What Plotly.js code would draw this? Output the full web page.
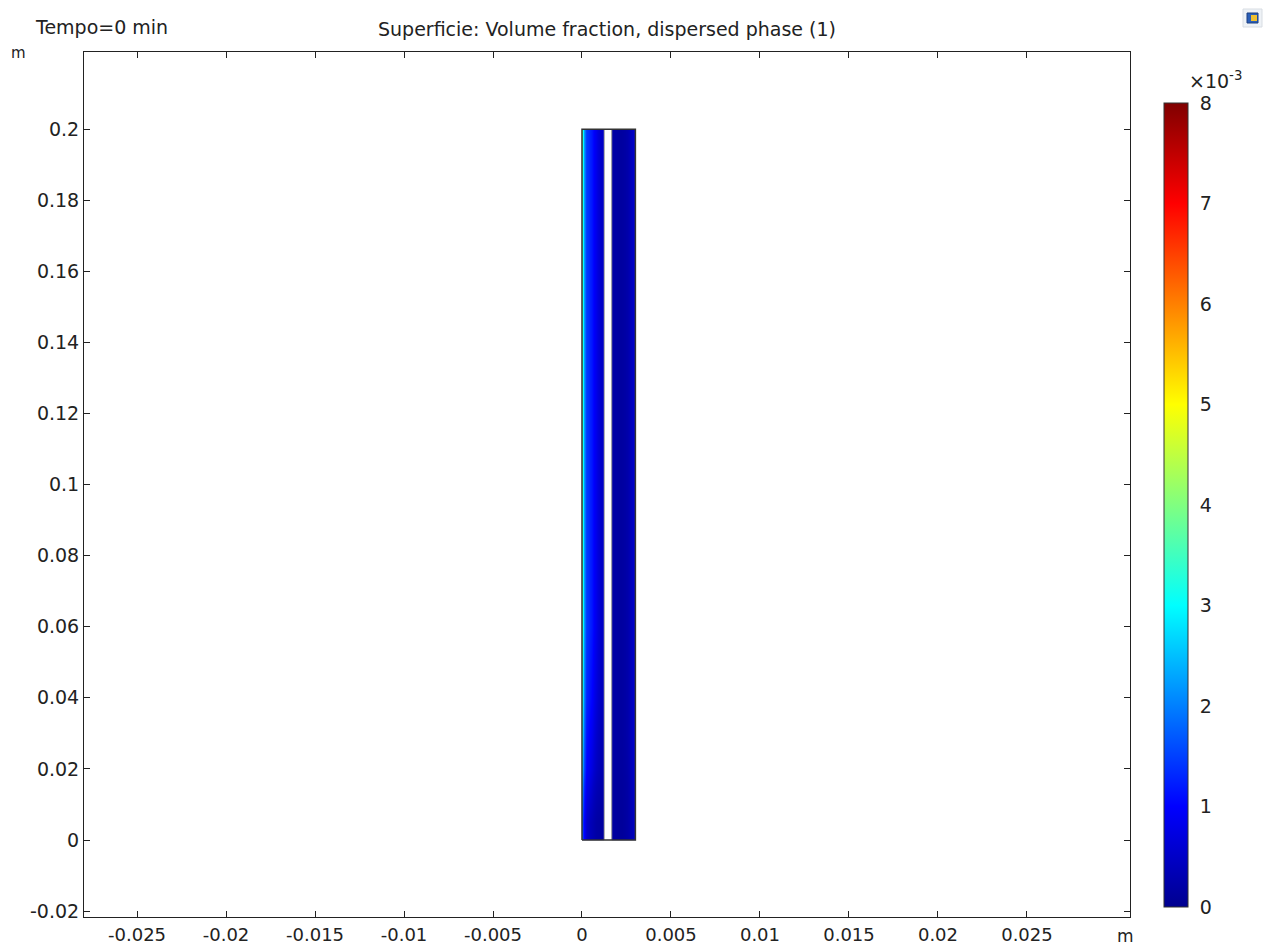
<!DOCTYPE html>
<html>
<head>
<meta charset="utf-8">
<script src="https://cdn.plot.ly/plotly-3.0.1.min.js"></script>
<style>html,body{margin:0;padding:0;background:#fff;}#chart{width:1267px;height:947px;}</style>
</head>
<body>
<div id="chart"></div>
<script>
// ---- Geometry of the domain (m) ----
const boxX = [0, 0.003, 0.003, 0, 0];
const boxY = [0, 0, 0.2, 0.2, 0];
const gapX = [0.00125, 0.00167];
const gapY = [0, 0.2];

// ---- Cell edges of the field (m) ----
const leftXEdges = [0, 0.00006, 0.00014, 0.0003, 0.0005, 0.0007, 0.0009, 0.00125];
const rightXEdges = [0.00167, 0.002, 0.0024, 0.0027, 0.0029, 0.003];
const cellYEdges = [0, 0.01, 0.02, 0.04, 0.08, 0.2];

// ---- Volume fraction, dispersed phase (units of 1e-3), one row per y band ----
const leftRows = [
  [1.6, 1.0, 0.6, 0.4, 0.3, 0.2, 0.15],
  [2.2, 1.3, 0.9, 0.7, 0.5, 0.35, 0.25],
  [3.0, 1.8, 1.2, 1.0, 0.8, 0.55, 0.35],
  [3.8, 2.2, 1.5, 1.3, 1.1, 0.8, 0.5],
  [3.8, 2.2, 1.5, 1.3, 1.1, 0.8, 0.5]
];
const rightRows = [
  [0.15, 0.1, 0.2, 0.35, 0.6],
  [0.15, 0.12, 0.2, 0.4, 0.65],
  [0.2, 0.15, 0.25, 0.45, 0.7],
  [0.2, 0.15, 0.25, 0.45, 0.7],
  [0.2, 0.15, 0.25, 0.45, 0.7]
];

// ---- Tick labels ----
const xTickVals = [-0.025, -0.02, -0.015, -0.01, -0.005, 0, 0.005, 0.01, 0.015, 0.02, 0.025];
const xTickText = ['-0.025', '-0.02', '-0.015', '-0.01', '-0.005', '0', '0.005', '0.01', '0.015', '0.02', '0.025'];
const yTickVals = [-0.02, 0, 0.02, 0.04, 0.06, 0.08, 0.1, 0.12, 0.14, 0.16, 0.18, 0.2];
const yTickText = ['-0.02', '0', '0.02', '0.04', '0.06', '0.08', '0.1', '0.12', '0.14', '0.16', '0.18', '0.2'];
const cbTickVals = [0, 1, 2, 3, 4, 5, 6, 7, 8];
const cbTickText = ['0', '1', '2', '3', '4', '5', '6', '7', '8'];

const rainbow = [
  [0, '#00008f'], [0.125, '#0000ff'], [0.375, '#00ffff'],
  [0.5, '#80ff80'], [0.625, '#ffff00'], [0.75, '#ff8000'],
  [0.875, '#ff0000'], [1, '#800000']
];

const font = 'DejaVu Sans, sans-serif';
const fs = 19;

const traces = [
  {
    type: 'heatmap',
    x: leftXEdges,
    y: cellYEdges,
    z: leftRows,
    zmin: 0, zmax: 8,
    zsmooth: 'best',
    colorscale: rainbow,
    hoverinfo: 'skip',
    colorbar: {
      xref: 'container', x: 1164 / 1267, xanchor: 'left', xpad: 0,
      yref: 'paper', y: (917 - 907) / 865, yanchor: 'bottom', ypad: 0,
      len: 804, lenmode: 'pixels',
      thickness: 24, thicknessmode: 'pixels',
      outlinewidth: 1, outlinecolor: '#333',
      tickmode: 'array', tickvals: cbTickVals, ticktext: cbTickText,
      ticks: 'outside', ticklen: 8, tickcolor: 'rgba(0,0,0,0)',
      tickfont: {family: font, size: fs, color: '#222'}
    }
  },
  {
    type: 'heatmap',
    x: rightXEdges,
    y: cellYEdges,
    z: rightRows,
    zmin: 0, zmax: 8,
    zsmooth: 'best',
    colorscale: rainbow,
    showscale: false,
    hoverinfo: 'skip'
  },
  {
    type: 'scatter', mode: 'lines', x: [gapX[0], gapX[0]], y: gapY,
    line: {color: '#9a9a9a', width: 1}, hoverinfo: 'skip'
  },
  {
    type: 'scatter', mode: 'lines', x: [gapX[1], gapX[1]], y: gapY,
    line: {color: '#9a9a9a', width: 1}, hoverinfo: 'skip'
  },
  {
    type: 'scatter', mode: 'lines', x: boxX, y: boxY,
    line: {color: '#333', width: 1.5}, hoverinfo: 'skip'
  }
];

const axisCommon = {
  showgrid: false, zeroline: false,
  showline: true, linecolor: '#222', linewidth: 1, mirror: 'ticks',
  ticks: 'inside', ticklen: 6, tickcolor: '#222', tickwidth: 1,
  tickfont: {family: font, size: fs, color: '#222'},
  tickmode: 'array'
};

const layout = {
  width: 1267, height: 947,
  margin: {l: 84, r: 137, t: 52, b: 30},
  paper_bgcolor: '#fff', plot_bgcolor: '#fff',
  showlegend: false, hovermode: false,
  font: {family: font, size: fs, color: '#222'},
  title: {
    text: 'Superficie: Volume fraction, dispersed phase (1)',
    font: {family: font, size: fs, color: '#222'},
    xref: 'paper', x: 0.5, xanchor: 'center',
    yref: 'container', y: 1 - 29 / 947, yanchor: 'middle'
  },
  xaxis: Object.assign({}, axisCommon, {
    range: [-0.02798, 0.03079],
    tickvals: xTickVals, ticktext: xTickText,
    tickfont: {family: font, size: 18, color: '#222'},
    ticklabelstandoff: 1
  }),
  yaxis: Object.assign({}, axisCommon, {
    range: [-0.02166, 0.2217],
    tickvals: yTickVals, ticktext: yTickText
  }),
  annotations: [
    {text: 'Tempo=0 min', xref: 'paper', yref: 'paper',
     x: (33 - 84) / 1046, y: (917 - 27) / 865, xanchor: 'left', yanchor: 'middle',
     showarrow: false, font: {family: font, size: fs, color: '#222'}},
    {text: 'm', xref: 'paper', yref: 'paper',
     x: (18 - 84) / 1046, y: (917 - 53) / 865, xanchor: 'center', yanchor: 'middle',
     showarrow: false, font: {family: font, size: 15, color: '#222'}},
    {text: 'm', xref: 'paper', yref: 'paper',
     x: (1125 - 84) / 1046, y: (917 - 936) / 865, xanchor: 'center', yanchor: 'middle',
     showarrow: false, font: {family: font, size: 17, color: '#222'}},
    {text: '×10<sup>-3</sup>', xref: 'paper', yref: 'paper',
     x: (1187 - 84) / 1046, y: (917 - 80) / 865, xanchor: 'left', yanchor: 'middle',
     showarrow: false, font: {family: font, size: fs, color: '#222'}}
  ],
  shapes: [
    {type: 'rect', xref: 'paper', yref: 'paper',
     x0: (1243 - 84) / 1046, x1: (1262 - 84) / 1046,
     y0: (917 - 27) / 865, y1: (917 - 9) / 865,
     fillcolor: '#eef2f6', line: {color: '#d8dde3', width: 1}},
    {type: 'rect', xref: 'paper', yref: 'paper',
     x0: (1247 - 84) / 1046, x1: (1258 - 84) / 1046,
     y0: (917 - 23) / 865, y1: (917 - 13) / 865,
     fillcolor: '#2a5fb8', line: {color: '#1d3f80', width: 1}},
    {type: 'rect', xref: 'paper', yref: 'paper',
     x0: (1251 - 84) / 1046, x1: (1257 - 84) / 1046,
     y0: (917 - 21) / 865, y1: (917 - 15) / 865,
     fillcolor: '#f0c030', line: {width: 0}}
  ]
};

Plotly.newPlot('chart', traces, layout, {staticPlot: true, displayModeBar: false});
</script>
</body>
</html>
